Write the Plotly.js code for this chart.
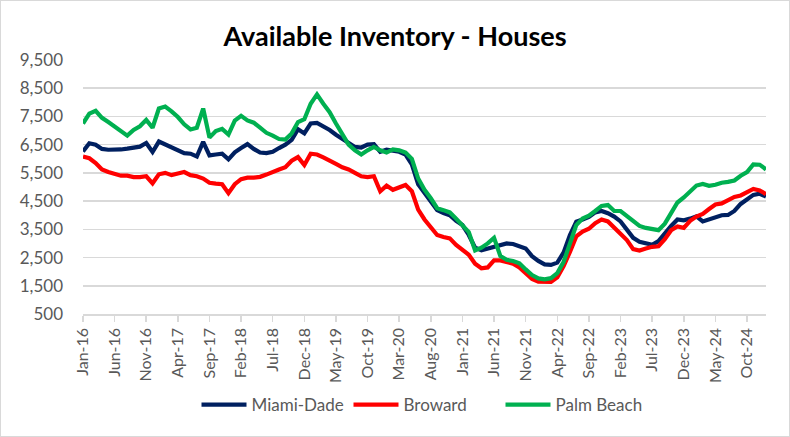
<!DOCTYPE html>
<html>
<head>
<meta charset="utf-8">
<script src="https://cdn.plot.ly/plotly-3.0.1.min.js"></script>
<style>
  html, body { margin: 0; padding: 0; background: #fff; }
  #wrap { position: relative; width: 790px; height: 437px; }
  #chart { width: 790px; height: 437px; }
  #frame { position: absolute; left: 0; top: 0; width: 788px; height: 435px; border: 1px solid #d9d9d9; pointer-events: none; }
</style>
</head>
<body>
<div id="wrap"><div id="chart"></div><div id="frame"></div></div>
<script>
// Month categories Jan-16 .. Jan-25
const monthNames = ["Jan","Feb","Mar","Apr","May","Jun","Jul","Aug","Sep","Oct","Nov","Dec"];
const months = [];
for (let y = 16; y <= 25; y++) {
  for (let m = 0; m < 12; m++) {
    if (y === 25 && m > 0) break;
    months.push(monthNames[m] + "-" + y);
  }
}

const miamiDade = [
  6260, 6550, 6500, 6350, 6320, 6320, 6330, 6360, 6400, 6430,
  6560, 6240, 6610, 6500, 6380, 6300, 6200, 6180, 6080, 6600,
  6120, 6150, 6180, 5980, 6230, 6380, 6520, 6350, 6220, 6200,
  6250, 6380, 6500, 6670, 7050, 6900, 7250, 7270, 7150, 7020,
  6850, 6700, 6550, 6420, 6400, 6500, 6520, 6250, 6320, 6300,
  6250, 6150, 5800, 5100, 4800, 4500, 4180, 4080, 4000, 3800,
  3650, 3300, 2850, 2760, 2820, 2880, 2970, 3000, 2980, 2900,
  2820, 2550, 2380, 2260, 2240, 2320, 2680, 3300, 3770, 3850,
  3940, 4100, 4150, 4070, 3950, 3780, 3500, 3200, 3060, 3000,
  2950, 3080, 3380, 3620, 3850, 3820, 3880, 3960, 3780, 3860,
  3950, 4000, 4010, 4150, 4400, 4580, 4720, 4760, 4660
];

const broward = [
  6080, 6020, 5850, 5620, 5530, 5480, 5400, 5400, 5350, 5350,
  5380, 5130, 5450, 5500, 5420, 5480, 5530, 5420, 5380, 5300,
  5150, 5120, 5100, 4780, 5100, 5280, 5330, 5330, 5360, 5440,
  5550, 5620, 5700, 5930, 6060, 5780, 6180, 6150, 6050, 5950,
  5820, 5700, 5620, 5500, 5380, 5350, 5380, 4850, 5050, 4900,
  4980, 5070, 4850, 4200, 3850, 3580, 3300, 3230, 3180, 2950,
  2780, 2600, 2280, 2120, 2150, 2400, 2400, 2330, 2280, 2150,
  1950, 1740, 1650, 1630, 1640, 1800, 2200, 2700, 3250, 3420,
  3520, 3720, 3850, 3780, 3550, 3350, 3120, 2800, 2750, 2820,
  2880, 2900, 3150, 3470, 3600, 3550, 3800, 3950, 4050, 4220,
  4380, 4420, 4520, 4650, 4700, 4800, 4930, 4880, 4750
];

const palmBeach = [
  7250, 7600, 7700, 7450, 7300, 7150, 7000, 6820, 7020, 7150,
  7380, 7100, 7780, 7850, 7680, 7480, 7220, 7040, 7100, 7780,
  6750, 6980, 7060, 6860, 7350, 7520, 7360, 7280, 7100, 6920,
  6820, 6700, 6680, 6900, 7300, 7400, 7950, 8280, 7950, 7650,
  7250, 6850, 6500, 6300, 6150, 6300, 6420, 6300, 6220, 6330,
  6300, 6220, 6000, 5300, 4900, 4600, 4250, 4180, 4100, 3880,
  3650, 3400, 2750, 2850, 3000, 3200, 2550, 2420, 2380, 2300,
  2080, 1880, 1760, 1730, 1770, 1950, 2350, 3000, 3650, 3880,
  3980, 4150, 4330, 4360, 4150, 4150, 3980, 3780, 3620, 3550,
  3500, 3470, 3700, 4100, 4450, 4630, 4850, 5050, 5110, 5040,
  5080, 5150, 5180, 5230, 5400, 5530, 5800, 5790, 5620
];

const xTickLabels = ["Jan-16","Jun-16","Nov-16","Apr-17","Sep-17","Feb-18","Jul-18","Dec-18","May-19","Oct-19","Mar-20","Aug-20","Jan-21","Jun-21","Nov-21","Apr-22","Sep-22","Feb-23","Jul-23","Dec-23","May-24","Oct-24"];
const yTickVals = [500,1500,2500,3500,4500,5500,6500,7500,8500,9500];
const yTickText = ["500","1,500","2,500","3,500","4,500","5,500","6,500","7,500","8,500","9,500"];

const names = ["Miami-Dade", "Broward", "Palm Beach"];
const colors = ["#002060", "#FF0000", "#00B050"];
const series = [miamiDade, broward, palmBeach];

const traces = series.map((vals, k) => ({
  type: "scatter",
  mode: "lines",
  name: names[k],
  x: months,
  y: vals,
  line: { color: colors[k], width: 4.2 },
  hoverinfo: "x+y+name"
}));

const layout = {
  width: 790,
  height: 437,
  paper_bgcolor: "#ffffff",
  plot_bgcolor: "#ffffff",
  margin: { l: 83, r: 24, t: 60, b: 123 },
  font: { family: "Lato, 'Liberation Sans', sans-serif", color: "#595959" },
  title: {
    text: "<b>Available Inventory - Houses</b>",
    x: 0.5, xanchor: "center",
    y: 1 - 37/437, yanchor: "middle", yref: "container",
    font: { family: "Lato, 'Liberation Sans', sans-serif", size: 27, color: "#000000" }
  },
  xaxis: {
    type: "category",
    range: [0, months.length - 1],
    tickmode: "array",
    tickvals: xTickLabels,
    ticktext: xTickLabels,
    tickangle: -90,
    tickfont: { size: 16, color: "#595959" },
    ticks: "outside",
    ticklen: 6,
    tickcolor: "#d9d9d9",
    tickwidth: 1.5,
    showline: true,
    linecolor: "#d9d9d9",
    linewidth: 1.5,
    showgrid: false,
    zeroline: false,
    fixedrange: true
  },
  yaxis: {
    range: [500, 9500],
    tickmode: "array",
    tickvals: yTickVals,
    ticktext: yTickText,
    tickfont: { size: 17, color: "#595959" },
    showgrid: true,
    gridcolor: "#d9d9d9",
    gridwidth: 1.5,
    showline: false,
    zeroline: false,
    ticks: "",
    ticklabelstandoff: 19,
    fixedrange: true
  },
  showlegend: true,
  legend: {
    orientation: "h",
    x: 0.5, xanchor: "center",
    y: 1 - 405/437, yref: "container", yanchor: "middle",
    font: { size: 17, color: "#595959" },
    itemwidth: 45,
    entrywidth: 92,
    entrywidthmode: "pixels",
    tracegroupgap: 0
  }
};

Plotly.newPlot("chart", traces, layout, { displayModeBar: false, staticPlot: true });
</script>
</body>
</html>
